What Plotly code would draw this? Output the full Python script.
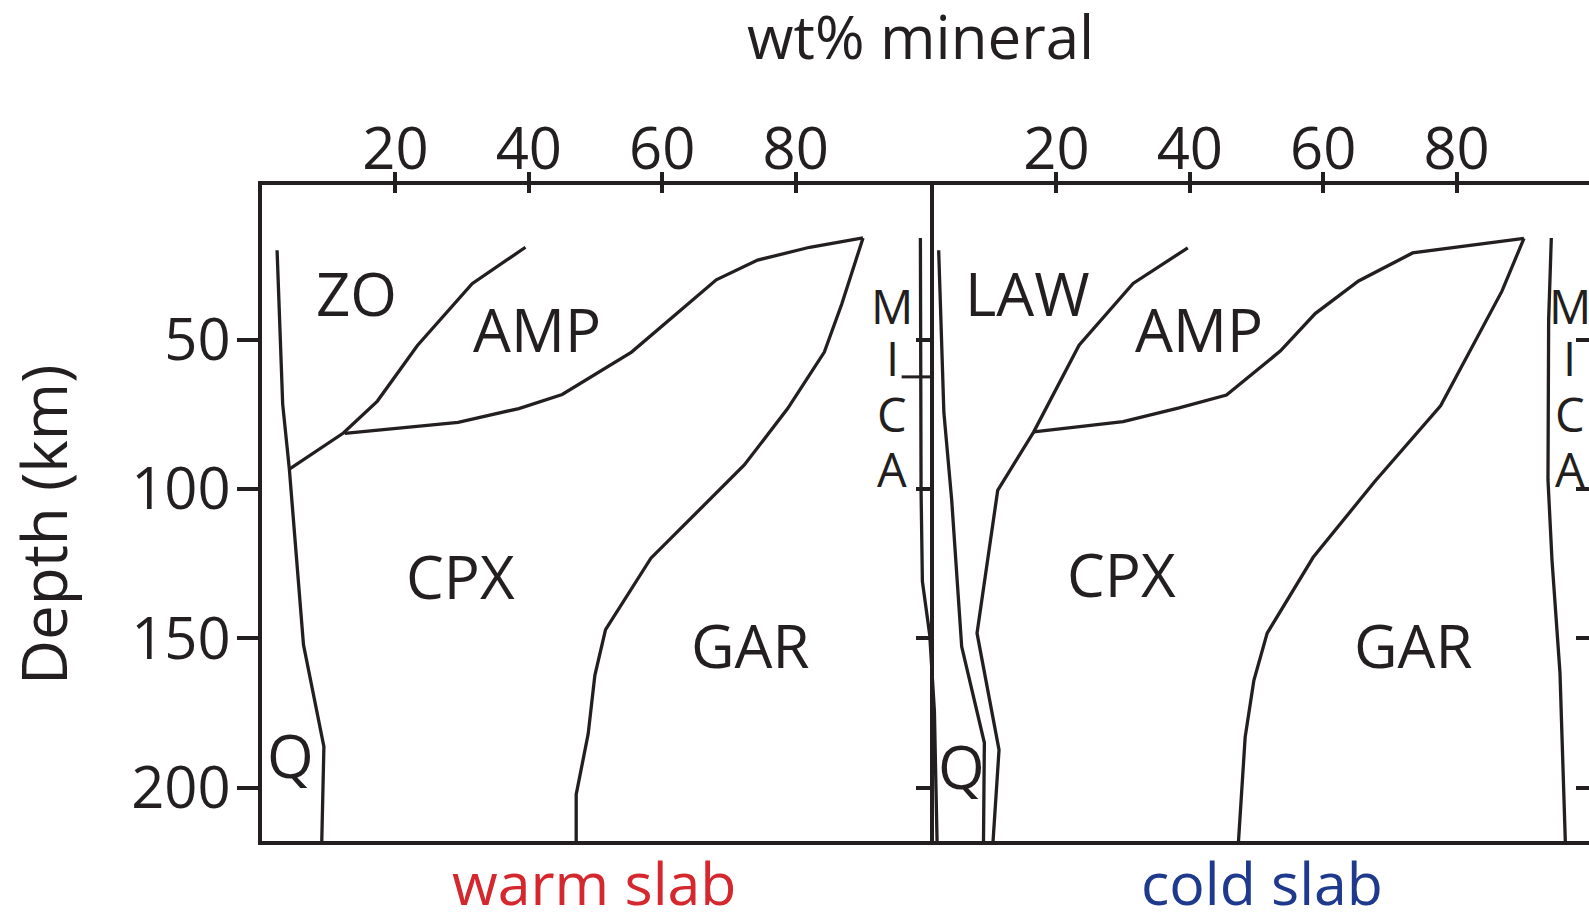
import plotly.graph_objects as go

# ---- mineral-mode boundaries, warm slab (x: wt% mineral, y: depth km) ----
warm_q_x = [2.26, 3.10, 4.10, 6.22, 9.28, 8.96]
warm_q_y = [20.1, 71.6, 93.4, 152.2, 186.3, 218.0]

warm_zo_x = [4.10, 12.2, 17.3, 23.3, 31.5, 39.5]
warm_zo_y = [93.4, 81.3, 70.6, 52.0, 31.3, 19.1]

warm_amp_x = [12.4, 29.4, 38.5, 45.0, 55.4, 68.1, 74.3, 82.1, 90.1]
warm_amp_y = [81.4, 77.7, 73.1, 68.4, 54.2, 30.0, 23.4, 19.1, 16.0]

warm_gar_x = [90.1, 86.9, 84.3, 78.8, 72.3, 58.3, 51.5, 49.9, 48.9, 47.1, 47.1]
warm_gar_y = [16.0, 38.2, 54.2, 73.1, 92.0, 123.2, 147.1, 162.4, 182.0, 202.3, 218.0]

warm_mica_x = [98.7, 98.8, 99.0, 100.1, 100.8, 101.2]
warm_mica_y = [16.0, 100.4, 131.0, 148.9, 174.4, 218.0]
warm_mica_mark_depth = [62.5]

# ---- mineral-mode boundaries, cold slab ----
cold_q_x = [2.35, 3.13, 4.30, 5.80, 9.20, 9.07]
cold_q_y = [20.1, 74.4, 103.7, 152.8, 185.0, 218.0]

cold_law_x = [39.7, 31.5, 23.4, 16.6, 11.2, 8.1, 11.4, 10.5]
cold_law_y = [19.3, 31.2, 51.9, 80.9, 100.5, 148.3, 187.4, 218.0]

cold_amp_x = [16.6, 30.0, 38.4, 45.5, 53.6, 58.8, 65.3, 73.4, 90.1]
cold_amp_y = [80.9, 77.5, 72.9, 68.6, 53.8, 41.3, 30.4, 21.0, 16.1]

cold_gar_x = [90.1, 86.8, 77.6, 67.7, 58.5, 51.6, 49.6, 48.3, 47.3]
cold_gar_y = [16.1, 33.8, 72.2, 97.6, 122.9, 148.3, 164.2, 183.1, 218.0]

cold_mica_x = [94.2, 93.8, 93.7, 94.3, 95.5, 96.3]
cold_mica_y = [16.0, 43.5, 97.0, 123.8, 161.6, 218.0]

# ---- axis ticks ----
wt_ticks = [20, 40, 60, 80]
depth_ticks = [50, 100, 150, 200]

# ---- phase-field labels: (text, x, y) ----
warm_labels = [("ZO", 14.1, 34.3), ("AMP", 41.2, 46.5), ("CPX", 29.7, 129.0),
               ("GAR", 73.3, 152.3), ("Q", 4.3, 189.2)]
cold_labels = [("LAW", 15.6, 34.4), ("AMP", 41.4, 46.5), ("CPX", 29.8, 128.5),
               ("GAR", 73.5, 152.3), ("Q", 5.7, 192.8)]
mica_letters = ["M", "I", "C", "A"]
mica_depths = [38.8, 56.2, 75.0, 93.5]
warm_mica_label_x = 94.45
cold_mica_label_x = 97.0

INK = "#231f20"
FONT = "Open Sans"
LW = 3.3
AXW = 3.5

fig = go.Figure()


def add_line(x, y, xa):
    fig.add_trace(go.Scatter(x=x, y=y, xaxis=xa, yaxis="y", mode="lines",
                             line=dict(color=INK, width=LW),
                             showlegend=False, hoverinfo="skip"))


for xs, ys in [(warm_q_x, warm_q_y), (warm_zo_x, warm_zo_y),
               (warm_amp_x, warm_amp_y), (warm_gar_x, warm_gar_y),
               (warm_mica_x, warm_mica_y)]:
    add_line(xs, ys, "x")

for xs, ys in [(cold_q_x, cold_q_y), (cold_law_x, cold_law_y),
               (cold_amp_x, cold_amp_y), (cold_gar_x, cold_gar_y),
               (cold_mica_x, cold_mica_y)]:
    add_line(xs, ys, "x2")

# short marker across the warm-slab mica field
fig.add_trace(go.Scatter(x=[98.2] * len(warm_mica_mark_depth), y=warm_mica_mark_depth,
                         xaxis="x", yaxis="y", mode="markers",
                         marker=dict(symbol="line-ew", size=22,
                                     line=dict(color=INK, width=3.0)),
                         showlegend=False, hoverinfo="skip"))

# invisible carriers so the overlay axes (crossing ticks, panel dividers) get drawn
for xa, ya in [("x3", "y"), ("x4", "y"), ("x2", "y2"), ("x2", "y3")]:
    fig.add_trace(go.Scatter(x=[50], y=[100], xaxis=xa, yaxis=ya, mode="markers",
                             marker=dict(size=1, opacity=0),
                             showlegend=False, hoverinfo="skip"))

# ---- geometry ----
W, H = 1589, 915
ML, MR, MT, MB = 262, 0, 185, 74
PW = W - ML - MR
PH = H - MT - MB
left_end = 0.5147
right_start = 0.5049
y_range = [217.88, -1.74]

tick_font = dict(family=FONT, size=58, color=INK)

common_x = dict(showgrid=False, zeroline=False, side="top", anchor="y",
                tickvals=wt_ticks, tickfont=tick_font, tickwidth=AXW,
                tickcolor=INK)


def label(text, x, y, xref, yref, size, color=INK, angle=0, height=None):
    d = dict(text=text, x=x, y=y, xref=xref, yref=yref, showarrow=False,
             xanchor="center", yanchor="middle", textangle=angle,
             font=dict(family=FONT, size=size, color=color))
    if height is not None:
        d["height"] = height
        d["valign"] = "middle"
    return d


annotations = []
for text, x, y in warm_labels:
    annotations.append(label(text, x, y, "x", "y", 60))
for text, x, y in cold_labels:
    annotations.append(label(text, x, y, "x2", "y", 60))
for letter, d in zip(mica_letters, mica_depths):
    annotations.append(label(letter, warm_mica_label_x, d, "x", "y", 47, height=44))
    annotations.append(label(letter, cold_mica_label_x, d, "x2", "y", 47, height=44))


def px(xp):
    return (xp - ML) / PW


def py(yp):
    return (MT + PH - yp) / PH


annotations += [
    label("wt% mineral", px(920), py(36), "paper", "paper", 60, height=60),
    label("Depth (km)", px(43), py(525), "paper", "paper", 62, angle=-90),
    label("warm slab", px(594), py(882), "paper", "paper", 59, color="#d4282e", height=50),
    label("cold slab", px(1262), py(882), "paper", "paper", 59, color="#1f3a8c", height=50),
]

fig.update_layout(
    width=W, height=H,
    margin=dict(l=ML, r=MR, t=MT, b=MB, pad=0),
    paper_bgcolor="white", plot_bgcolor="rgba(0,0,0,0)",
    xaxis=dict(domain=[0, left_end], range=[0, 102.39],
               showline=True, linewidth=AXW, linecolor=INK, mirror=True,
               ticks="outside", ticklen=9, ticklabelstandoff=-20, **common_x),
    xaxis3=dict(overlaying="x", range=[0, 102.39], ticks="inside", ticklen=8,
                showticklabels=False, showline=False, **common_x),
    xaxis2=dict(domain=[right_start, 1], range=[1.35, 99.85],
                showline=True, linewidth=AXW, linecolor=INK, mirror=True,
                ticks="outside", ticklen=9, ticklabelstandoff=-20, **common_x),
    xaxis4=dict(overlaying="x2", range=[1.35, 99.85], ticks="inside", ticklen=8,
                showticklabels=False, showline=False, **common_x),
    yaxis=dict(domain=[0, 1], range=y_range, anchor="x",
               showline=True, linewidth=AXW, linecolor=INK, mirror=False,
               ticks="outside", ticklen=21, tickwidth=AXW, tickcolor=INK,
               tickvals=depth_ticks, tickfont=tick_font, ticklabelstandoff=-5,
               showgrid=False, zeroline=False),
    yaxis2=dict(overlaying="y", anchor="free", position=right_start, side="left",
                range=y_range, showline=True, linewidth=AXW, linecolor=INK,
                ticks="outside", ticklen=14, tickwidth=AXW, tickcolor=INK,
                tickvals=depth_ticks, showticklabels=False,
                showgrid=False, zeroline=False),
    yaxis3=dict(overlaying="y", anchor="free", position=1.0, side="left",
                range=y_range, showline=False,
                ticks="outside", ticklen=13, tickwidth=AXW, tickcolor=INK,
                tickvals=depth_ticks, showticklabels=False,
                showgrid=False, zeroline=False),
    annotations=annotations,
)

fig.write_html("out.html")
